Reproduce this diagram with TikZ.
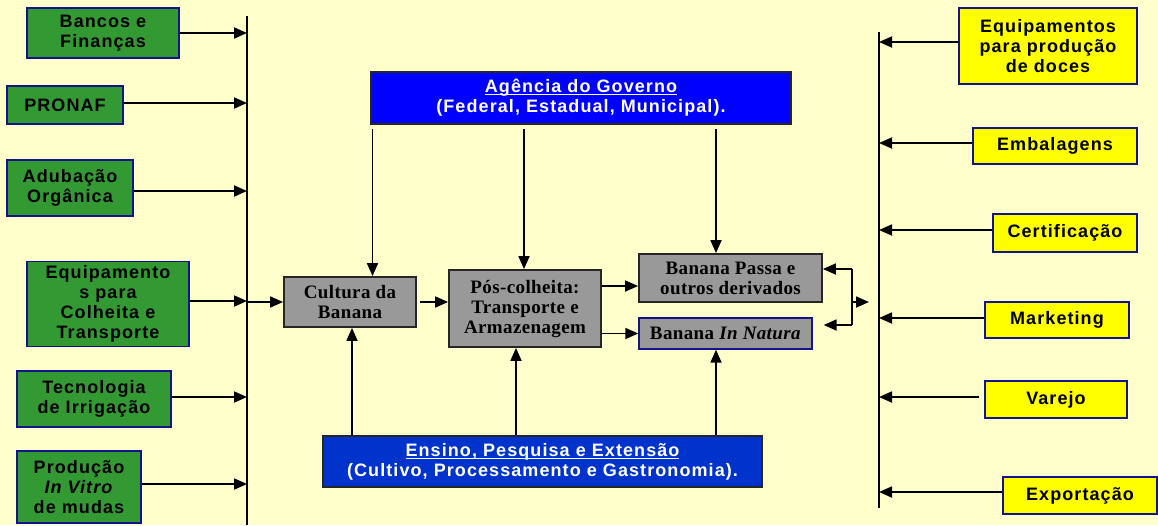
\documentclass[tikz,border=0pt]{standalone}
\usepackage{fontspec}
\setmainfont{Liberation Serif}
\newfontfamily\sansb[LetterSpace=6]{Liberation Sans}
\newfontfamily\serifb[LetterSpace=2]{Liberation Serif}
\usetikzlibrary{arrows.meta}
\definecolor{bgc}{HTML}{FFFFCC}
\definecolor{gfill}{HTML}{339933}
\definecolor{yfill}{HTML}{FFFF00}
\definecolor{grfill}{HTML}{999999}
\definecolor{agblue}{HTML}{0000FF}
\definecolor{enblue}{HTML}{0033CC}
\definecolor{navy}{HTML}{14148A}
\newcommand\myul[1]{\setbox0\hbox{#1}\rlap{\rule[-2.6pt]{\wd0}{1.2pt}}\box0}
\tikzset{
  sbox/.style={draw=navy, line width=1.6pt, inner sep=0pt, align=center,
    font=\sansb\bfseries\fontsize{18}{20}\selectfont},
  gbox/.style={sbox, fill=gfill},
  ybox/.style={sbox, fill=yfill},
  grbox/.style={draw=black!85, line width=1.8pt, fill=grfill, inner sep=0pt, align=center,
    font=\serifb\bfseries\fontsize{19}{20}\selectfont},
  bbox/.style={draw=black!85, line width=1.8pt, inner sep=0pt, align=center, text=white,
    font=\sansb\bfseries\fontsize{18}{20}\selectfont},
  conn/.style={line width=1.8pt, draw=black},
  arr/.style={conn, -{Triangle[length=13pt,width=11pt]}},
}
\begin{document}
\begin{tikzpicture}[x=1pt,y=-1pt]
\useasboundingbox (0,0) rectangle (1158,525);
\fill[bgc] (0,0) rectangle (1158,525);

% buses
\coordinate (lbT) at (247,16);
\coordinate (lbB) at (247,525);
\coordinate (rbT) at (879,32);
\coordinate (rbB) at (879,508);
\draw[conn] (lbT) -- (lbB);
\draw[conn] (rbT) -- (rbB);

% green boxes
\node[gbox, minimum width=152pt, minimum height=50pt] (g1) at (103,33) {Bancos e\\Finanças};
\node[gbox, minimum width=116pt, minimum height=38pt] (g2) at (65,105) {PRONAF};
\node[gbox, minimum width=126pt, minimum height=56pt] (g3) at (70,188) {Adubação\\Orgânica};
\node[gbox, minimum width=162pt, minimum height=85pt] (g4) at (108,304) {Equipamento\\s para\\Colheita e\\Transporte};
\node[gbox, minimum width=154pt, minimum height=56pt] (g5) at (94,399) {Tecnologia\\de Irrigação};
\node[gbox, minimum width=124pt, minimum height=72pt] (g6) at (79,487) {Produção\\\textit{In Vitro}\\de mudas};

\draw[arr] (g1.east) -- (g1.east -| lbT);
\draw[arr] ([yshift=2pt]g2.east) -- ([yshift=2pt]g2.east -| lbT);
\draw[arr] ([yshift=-3pt]g3.east) -- ([yshift=-3pt]g3.east -| lbT);
\draw[arr] ([yshift=3pt]g4.east) -- ([yshift=3pt]g4.east -| lbT);
\draw[arr] ([yshift=2pt]g5.east) -- ([yshift=2pt]g5.east -| lbT);
\draw[arr] ([yshift=3pt]g6.east) -- ([yshift=3pt]g6.east -| lbT);

% gray boxes
\node[grbox, minimum width=132pt, minimum height=50pt] (cul) at (350,302) {Cultura da\\Banana};
\node[grbox, minimum width=152pt, minimum height=77pt] (pos) at (525,308.5) {Pós-colheita:\\Transporte e\\Armazenagem};
\node[grbox, minimum width=183pt, minimum height=48pt] (passa) at (730.5,278) {Banana Passa e\\outros derivados};
\node[grbox, draw=navy, line width=1.4pt, minimum width=173pt, minimum height=31pt] (natura) at (725.5,333.5) {Banana \textit{In Natura}};

% blue boxes
\node[bbox, fill=agblue, minimum width=420pt, minimum height=52pt] (ag) at (581,98) {\myul{Agência do Governo}\\(Federal, Estadual, Municipal).};
\node[bbox, fill=enblue, minimum width=439pt, minimum height=51pt] (en) at (542.5,461.5) {\myul{Ensino, Pesquisa e Extensão}\\(Cultivo, Processamento e Gastronomia).};

% main flow
\draw[arr] (lbT |- cul.west) -- (cul.west);
\draw[arr, shorten <=3pt] (cul.east) -- (cul.east -| pos.west);
\coordinate (yp) at (0,286);
\draw[arr] (pos.east |- yp) -- (passa.west |- yp);
\draw[arr] (pos.east |- natura.west) -- (natura.west);

% agency arrows
\coordinate (a1) at (372.5,0);
\coordinate (a2) at (524,0);
\coordinate (a3) at (716,0);
\draw[arr, shorten <=4pt] (ag.south -| a1) -- (cul.north -| a1);
\draw[arr, shorten <=4pt] (ag.south -| a2) -- (pos.north -| a2);
\draw[arr, shorten <=4pt] (ag.south -| a3) -- (passa.north -| a3);

% ensino arrows
\coordinate (e1) at (352,0);
\coordinate (e2) at (516,0);
\coordinate (e3) at (716,0);
\draw[arr] (en.north -| e1) -- (cul.south -| e1);
\draw[arr] (en.north -| e2) -- (pos.south -| e2);
\draw[arr] (en.north -| e3) -- (natura.south -| e3);

% bracket
\coordinate (b1) at (852,269);
\coordinate (b2) at (852,325);
\coordinate (bm) at (852,302);
\coordinate (bm2) at (869,302);
\draw[conn] (b1) -- (b2);
\draw[arr] (b1) -- (passa.east |- b1);
\draw[arr, shorten >=11pt] (b2) -- (natura.east |- b2);
\draw[arr] (bm) -- (bm2);

% yellow boxes
\node[ybox, minimum width=178pt, minimum height=76pt] (y1) at (1048,46) {Equipamentos\\para produção\\de doces};
\node[ybox, minimum width=164pt, minimum height=36pt] (y2) at (1055,146) {Embalagens};
\node[ybox, minimum width=144pt, minimum height=38pt] (y3) at (1065,233) {Certificação};
\node[ybox, minimum width=144pt, minimum height=36pt] (y4) at (1057,320) {Marketing};
\node[ybox, minimum width=142pt, minimum height=37pt] (y5) at (1056,399.5) {Varejo};
\node[ybox, minimum width=154pt, minimum height=37pt] (y6) at (1080,495.5) {Exportação};

\draw[arr] ([yshift=4pt]y1.west) -- ([yshift=4pt]y1.west -| rbT);
\draw[arr] ([yshift=3pt]y2.west) -- ([yshift=3pt]y2.west -| rbT);
\draw[arr] ([yshift=3pt]y3.west) -- ([yshift=3pt]y3.west -| rbT);
\draw[arr] ([yshift=2pt]y4.west) -- ([yshift=2pt]y4.west -| rbT);
\draw[arr, shorten <=5pt] ([yshift=2.5pt]y5.west) -- ([yshift=2.5pt]y5.west -| rbT);
\draw[arr] ([yshift=3.5pt]y6.west) -- ([yshift=3.5pt]y6.west -| rbT);
\end{tikzpicture}
\end{document}
